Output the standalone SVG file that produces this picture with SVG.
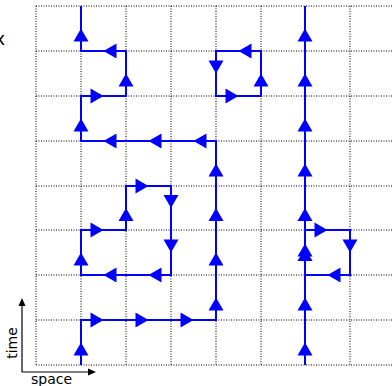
<svg xmlns="http://www.w3.org/2000/svg" xmlns:xlink="http://www.w3.org/1999/xlink" width="392" height="386" viewBox="0 0 392 386">
<style>
.grid{stroke:#000;stroke-width:1;stroke-dasharray:1,1.5;fill:none}
.wl{stroke:#0000ff;stroke-width:2;fill:none;stroke-linejoin:miter}
.ah{fill:#0000ff}
.ax{stroke:#000;stroke-width:1.2;fill:none}
.lbl{font-family:"DejaVu Sans",sans-serif;font-size:14px;fill:#000}
</style>
<defs>
<path id="r" d="M0,0 L-13,-7.5 L-13,7.5 Z"/>
<path id="axh" d="M0,0 L-8,-3.5 L-8,3.5 Z"/>
</defs>
<rect width="392" height="386" fill="#fff"/>
<g id="grid" class="grid">
<path d="M36,6 H392 M36,51 H392 M36,96 H392 M36,141 H392 M36,186 H392 M36,230 H392 M36,275 H392 M36,320 H392 M36,365 H392"/>
<path d="M36,6 V365 M81,6 V365 M126,6 V365 M171,6 V365 M216,6 V365 M261,6 V365 M305,6 V365 M350,6 V365"/>
</g>
<g id="axes">
<path class="ax" d="M22,372 V302 M22,372 H90"/>
<use href="#axh" transform="translate(22,298) rotate(-90)"/>
<use href="#axh" transform="translate(96,372)"/>
<text class="lbl" transform="translate(17,343) rotate(-90)" text-anchor="middle">time</text>
<text class="lbl" x="31" y="384">space</text>
<text class="lbl" x="-5.5" y="45" style="font-size:18px">x</text>
</g>
<g id="connectors">
<g id="path-a">
<path class="wl" d="M81,365 V320 H216 V141 H81 V96 H126 V51 H81 V6"/>
<g class="ah">
<use href="#r" transform="translate(81,342.5) rotate(-90)"/>
<use href="#r" transform="translate(103.5,320)"/>
<use href="#r" transform="translate(148.5,320)"/>
<use href="#r" transform="translate(193.5,320)"/>
<use href="#r" transform="translate(216,297.5) rotate(-90)"/>
<use href="#r" transform="translate(216,252.5) rotate(-90)"/>
<use href="#r" transform="translate(216,208) rotate(-90)"/>
<use href="#r" transform="translate(216,163.5) rotate(-90)"/>
<use href="#r" transform="translate(193.5,141) rotate(180)"/>
<use href="#r" transform="translate(148.5,141) rotate(180)"/>
<use href="#r" transform="translate(103.5,141) rotate(180)"/>
<use href="#r" transform="translate(81,118.5) rotate(-90)"/>
<use href="#r" transform="translate(103.5,96)"/>
<use href="#r" transform="translate(126,73.5) rotate(-90)"/>
<use href="#r" transform="translate(103.5,51) rotate(180)"/>
<use href="#r" transform="translate(81,28.5) rotate(-90)"/>
</g>
</g>
<g id="loop-b">
<path class="wl" d="M81,275 V230 H126 V186 H171 V275 H81 Z"/>
<g class="ah">
<use href="#r" transform="translate(81,252.5) rotate(-90)"/>
<use href="#r" transform="translate(103.5,230)"/>
<use href="#r" transform="translate(126,208) rotate(-90)"/>
<use href="#r" transform="translate(148.5,186)"/>
<use href="#r" transform="translate(171,208) rotate(90)"/>
<use href="#r" transform="translate(171,252.5) rotate(90)"/>
<use href="#r" transform="translate(148.5,275) rotate(180)"/>
<use href="#r" transform="translate(103.5,275) rotate(180)"/>
</g>
</g>
<g id="loop-c">
<path class="wl" d="M216,51 V96 H261 V51 Z"/>
<g class="ah">
<use href="#r" transform="translate(216,73.5) rotate(90)"/>
<use href="#r" transform="translate(238.5,96)"/>
<use href="#r" transform="translate(261,73.5) rotate(-90)"/>
<use href="#r" transform="translate(238.5,51) rotate(180)"/>
</g>
</g>
<g id="path-d">
<path class="wl" d="M305,365 V6"/>
<g class="ah">
<use href="#r" transform="translate(305,342.5) rotate(-90)"/>
<use href="#r" transform="translate(305,297.5) rotate(-90)"/>
<use href="#r" transform="translate(305,248) rotate(-90)"/>
<use href="#r" transform="translate(305,208) rotate(-90)"/>
<use href="#r" transform="translate(305,163.5) rotate(-90)"/>
<use href="#r" transform="translate(305,118.5) rotate(-90)"/>
<use href="#r" transform="translate(305,73.5) rotate(-90)"/>
<use href="#r" transform="translate(305,28.5) rotate(-90)"/>
</g>
</g>
<g id="loop-e">
<path class="wl" d="M305,275 V230 H350 V275 Z"/>
<g class="ah">
<use href="#r" transform="translate(305,243.5) rotate(-90)"/>
<use href="#r" transform="translate(327.5,230)"/>
<use href="#r" transform="translate(350,252.5) rotate(90)"/>
<use href="#r" transform="translate(327.5,275) rotate(180)"/>
</g>
</g>
</g>
</svg>
